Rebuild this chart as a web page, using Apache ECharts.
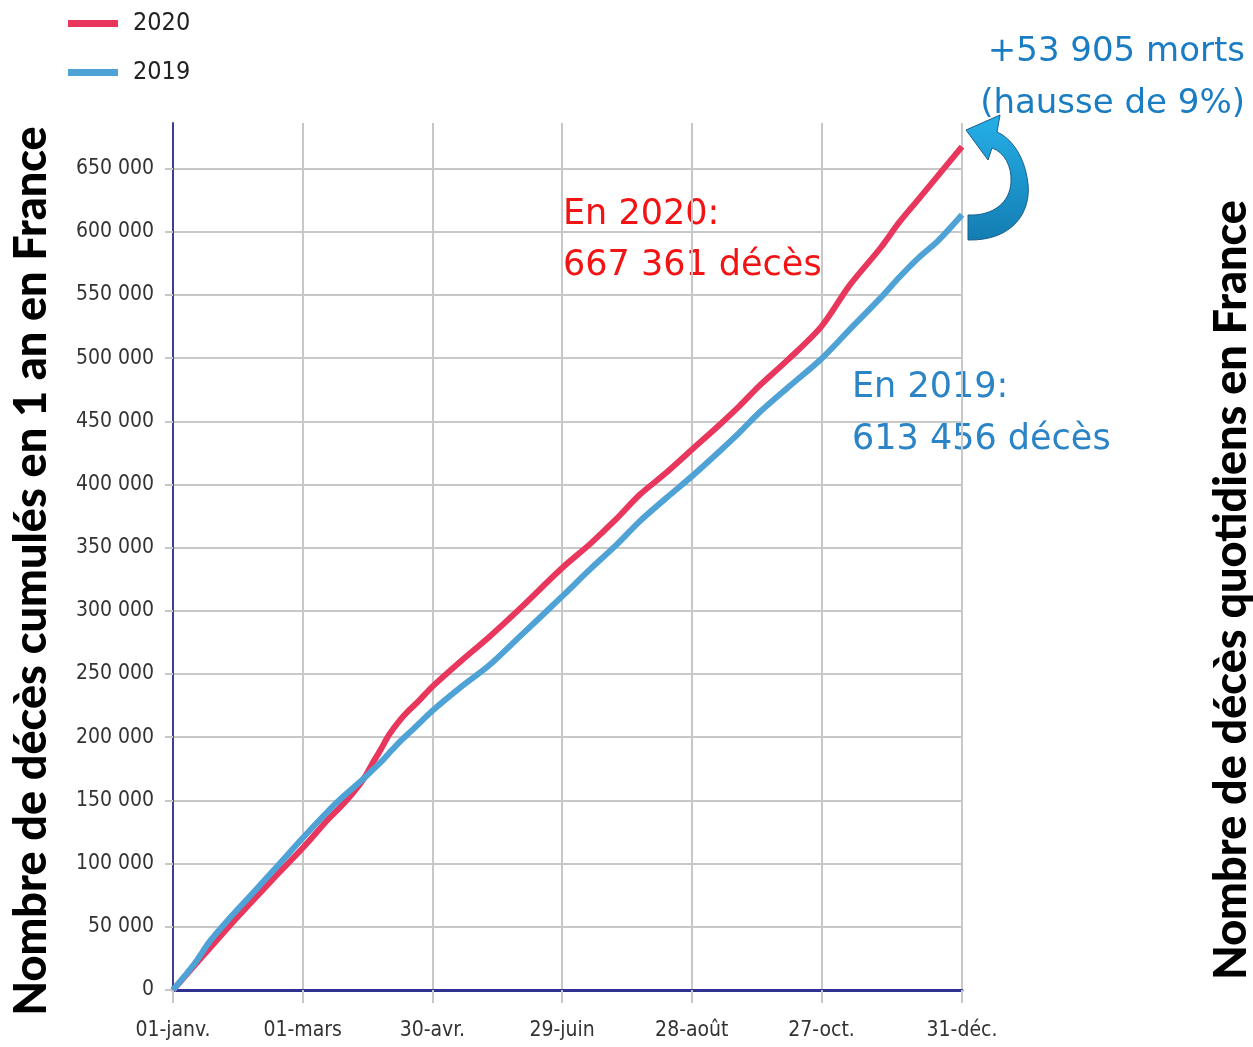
<!DOCTYPE html>
<html><head><meta charset="utf-8">
<script src="https://cdn.jsdelivr.net/npm/echarts@6/dist/echarts.min.js"></script>
<style>html,body{margin:0;padding:0;background:#fff;overflow:hidden}#c{width:1253px;height:1047px}</style>
</head><body><div id="c"></div>
<script>
// ---- data ----
const tickDays = [0, 60, 120, 180, 240, 300, 365];
const tickLabels = ['01-janv.', '01-mars', '30-avr.', '29-juin', '28-août', '27-oct.', '31-déc.'];
const yTicks = [0, 50000, 100000, 150000, 200000, 250000, 300000, 350000, 400000, 450000, 500000, 550000, 600000, 650000];
const days = [0, 10, 17, 26, 36, 48, 60, 72, 77, 83, 88, 92, 96, 100, 105, 109, 113, 120, 133, 146, 160, 180, 193, 205, 216, 228, 240, 253, 262, 271, 285, 300, 313, 327, 336, 345, 354, 365];
const deaths2020 = [0, 19500, 33000, 50500, 69000, 91000, 112400, 135500, 144000, 155500, 166500, 178500, 190000, 202000, 213500, 221000, 227500, 240100, 260000, 279000, 301000, 333900, 353000, 372500, 392000, 409000, 427500, 447500, 462000, 477600, 499500, 525100, 557500, 586500, 607500, 626000, 644500, 667361];
const deaths2019 = [0, 21000, 38500, 56500, 75000, 97500, 120300, 142000, 150400, 159500, 167000, 173500, 180000, 187500, 196600, 203000, 209500, 221000, 239500, 256500, 279000, 311400, 333000, 352000, 371000, 389000, 406400, 426500, 441000, 456600, 477500, 499500, 522500, 547000, 564000, 579500, 593000, 613456];

const categories = Array.from({length: 366}, (_, i) => String(i));
const narrow = "'DejaVu Sans Condensed', 'Liberation Sans Narrow', sans-serif";
const isTickDay = (idx) => tickDays.indexOf(idx) >= 0;
const fmt = (v) => String(v).replace(/\B(?=(\d{3})+(?!\d))/g, ' ');

// curved arrow decoration
const CurvedArrow = echarts.graphic.extendShape({
  shape: {},
  buildPath: function (ctx) {
    ctx.moveTo(968, 240);
    ctx.bezierCurveTo(1013, 241, 1031, 212, 1028, 184);
    ctx.bezierCurveTo(1025, 156, 1011, 138, 997, 132);
    ctx.lineTo(1000, 115);
    ctx.lineTo(966, 130);
    ctx.lineTo(988, 160);
    ctx.lineTo(992, 148);
    ctx.bezierCurveTo(1004, 152, 1012, 166, 1011, 182);
    ctx.bezierCurveTo(1010, 202, 994, 216, 968, 215);
    ctx.closePath();
  }
});
echarts.graphic.registerShape('curvedArrow', CurvedArrow);

const titleFont = "900 45px Lato, 'DejaVu Sans', sans-serif";
const noteFont = "35px 'DejaVu Sans', sans-serif";

const chart = echarts.init(document.getElementById('c'), null, {renderer: 'canvas'});
chart.setOption({
  animation: false,
  backgroundColor: '#ffffff',
  legend: {
    orient: 'vertical', left: 68, top: 11, padding: 0,
    itemWidth: 50, itemHeight: 7, itemGap: 24, icon: 'rect',
    textStyle: {fontSize: 25, fontFamily: narrow, color: '#222', padding: [0, 0, 0, 10]},
    data: ['2020', '2019']
  },
  grid: {left: 173, right: 291, top: 123, bottom: 57, containLabel: false, outerBoundsMode: 'none'},
  xAxis: {
    type: 'category', data: categories, boundaryGap: false,
    axisLine: {lineStyle: {color: '#2E3192', width: 3}},
    axisTick: {interval: (i) => isTickDay(i), length: 13, lineStyle: {color: '#c8c8c8', width: 2}},
    splitLine: {show: true, interval: (i) => isTickDay(i), lineStyle: {color: '#c8c8c8', width: 2}},
    axisLabel: {
      interval: (i) => isTickDay(i), margin: 30,
      formatter: (v) => tickLabels[tickDays.indexOf(Number(v))] || '',
      fontSize: 21, fontFamily: narrow, color: '#333'
    }
  },
  yAxis: {
    type: 'value', min: 0, max: 686000, interval: 50000,
    axisLine: {show: true, lineStyle: {color: '#3B3F96', width: 2}},
    axisTick: {show: true, length: 8, customValues: yTicks, lineStyle: {color: '#c8c8c8', width: 2}},
    splitLine: {show: true, lineStyle: {color: yTicks.map(() => '#c8c8c8').concat(['rgba(0,0,0,0)']), width: 2}},
    axisLabel: {
      customValues: yTicks, margin: 19,
      formatter: (v) => (v % 50000 === 0 && v <= 650000 ? fmt(v) : ''),
      fontSize: 21, fontFamily: narrow, color: '#333'
    }
  },
  series: [
    {name: '2020', type: 'line', showSymbol: false, symbol: 'none', smooth: 0.3,
     data: days.map((d, i) => [d, deaths2020[i]]),
     lineStyle: {color: '#E8365D', width: 6}, itemStyle: {color: '#E8365D'}},
    {name: '2019', type: 'line', showSymbol: false, symbol: 'none', smooth: 0.3,
     data: days.map((d, i) => [d, deaths2019[i]]),
     lineStyle: {color: '#4EA2D5', width: 6}, itemStyle: {color: '#4EA2D5'}}
  ],
  graphic: [
    {type: 'text', x: 31, y: 571, rotation: Math.PI / 2,
     style: {text: 'Nombre de décès cumulés en 1 an en France', fill: '#000', font: titleFont, align: 'center', verticalAlign: 'middle'}},
    {type: 'text', x: 1231, y: 590, rotation: Math.PI / 2,
     style: {text: 'Nombre de décès quotidiens en France', fill: '#000', font: titleFont, align: 'center', verticalAlign: 'middle'}},
    {type: 'text', x: 563, y: 215, style: {text: 'En 2020:', fill: '#F21414', font: noteFont, align: 'left', verticalAlign: 'middle'}},
    {type: 'text', x: 563, y: 266, style: {text: '667 361 décès', fill: '#F21414', font: noteFont, align: 'left', verticalAlign: 'middle'}},
    {type: 'text', x: 852, y: 388, style: {text: 'En 2019:', fill: '#2B84C6', font: noteFont, align: 'left', verticalAlign: 'middle'}},
    {type: 'text', x: 852, y: 440, style: {text: '613 456 décès', fill: '#2B84C6', font: noteFont, align: 'left', verticalAlign: 'middle'}},
    {type: 'text', x: 1245, y: 52, style: {text: '+53 905 morts', fill: '#1A7DC3', font: "34px 'DejaVu Sans', sans-serif", align: 'right', verticalAlign: 'middle'}},
    {type: 'text', x: 1245, y: 104, style: {text: '(hausse de 9%)', fill: '#1A7DC3', font: "34px 'DejaVu Sans', sans-serif", align: 'right', verticalAlign: 'middle'}},
    {type: 'curvedArrow', z: 10, shape: {},
     style: {
       fill: new echarts.graphic.LinearGradient(0, 0, 0, 1, [{offset: 0, color: '#25B0E8'}, {offset: 1, color: '#137DB2'}]),
       stroke: '#1A5E8C', lineWidth: 1
     }}
  ]
});
</script></body></html>
